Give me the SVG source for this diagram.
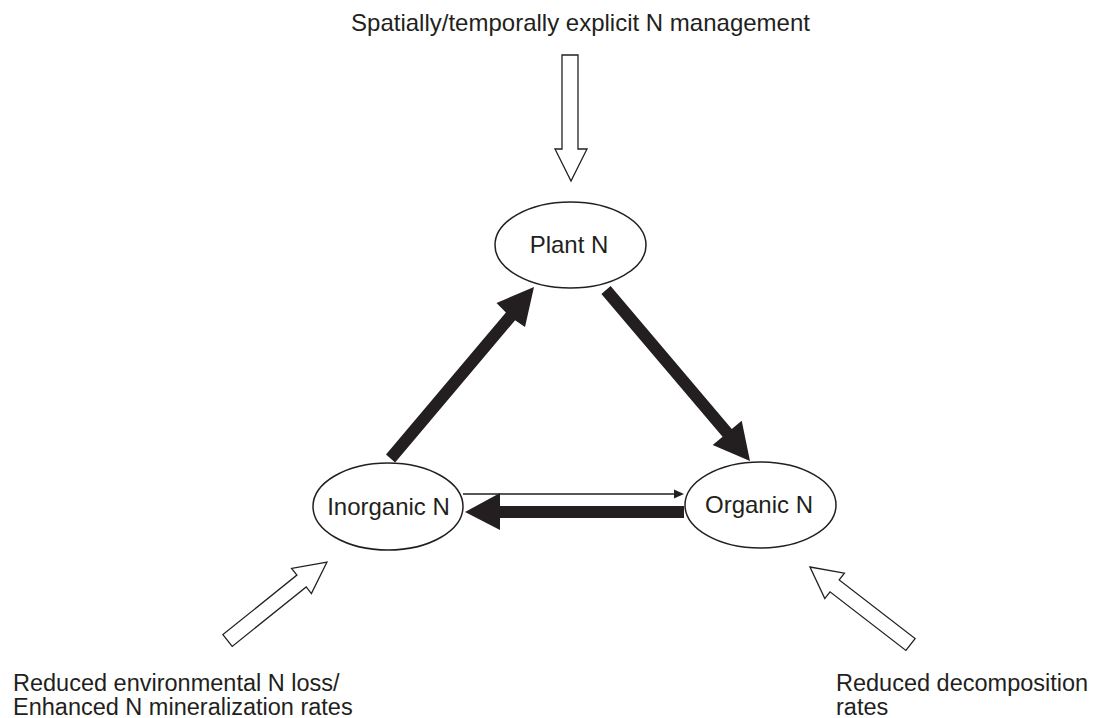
<svg xmlns="http://www.w3.org/2000/svg" width="1094" height="718" viewBox="0 0 1094 718">
  <style>
    .txt { font-family: "Liberation Sans", Arial, sans-serif; font-size: 24px; fill: #231f20; }
    .lbl { font-family: "Liberation Sans", Arial, sans-serif; font-size: 23.5px; fill: #231f20; }
    .node { fill: #ffffff; stroke: #231f20; stroke-width: 1.5; }
    .open { fill: #ffffff; stroke: #231f20; stroke-width: 1.3; stroke-linejoin: miter; }
    .solid { fill: #231f20; stroke: none; }
  </style>
  <rect width="1094" height="718" fill="#ffffff"/>

  <g id="connectors">
    <!-- Inorganic N -> Plant N (thick) -->
    <polygon class="solid" points="386.0,454.6 395.1,462.4 515.1,320.3 525.0,327.0 534,287 496.5,303.0 505.9,312.6"/>
    <!-- Plant N -> Organic N (thick) -->
    <polygon class="solid" points="601.4,293.9 610.6,286.1 731.8,429.0 741.7,420.7 750,461 712.7,445.0 722.6,436.8"/>
    <!-- Inorganic N -> Organic N (thin) -->
    <line x1="463" y1="494" x2="676" y2="494" stroke="#231f20" stroke-width="1.5"/>
    <polygon class="solid" points="684,494 674,489.5 674,498.5"/>
    <!-- Organic N -> Inorganic N (thick) -->
    <polygon class="solid" points="684,506 500,506 500,493 465,512 500,530 500,518 684,518"/>
  </g>

  <g id="input-arrows">
    <polygon id="arrow-top" class="open" points="562,55 578,55 578,149 587,149 571,181 555,149 562,149"/>
    <polygon id="arrow-left" class="open" points="327,562 311.4,593.6 306.2,586.9 232.2,646.4 222.9,634.6 296.9,575.1 291.6,568.4"/>
    <polygon id="arrow-right" class="open" points="810,567 844.4,573.2 839.2,579.9 915.1,638.6 905.9,650.4 830.0,591.8 824.8,598.6"/>
  </g>

  <g id="plant-n">
    <ellipse class="node" cx="570.5" cy="245" rx="75.5" ry="43"/>
    <text class="txt" x="569" y="253" text-anchor="middle">Plant N</text>
  </g>

  <g id="inorganic-n">
    <ellipse class="node" cx="388" cy="506.5" rx="75" ry="43.5"/>
    <text class="txt" x="388.5" y="515" text-anchor="middle">Inorganic N</text>
  </g>

  <g id="organic-n">
    <ellipse class="node" cx="760.5" cy="505" rx="75.5" ry="43"/>
    <text class="txt" x="759" y="513" text-anchor="middle">Organic N</text>
  </g>

  <g id="label-top">
    <text class="txt" x="580.5" y="31" text-anchor="middle">Spatially/temporally explicit N management</text>
  </g>

  <g id="label-bottom-left">
    <text class="lbl" x="13" y="691">Reduced environmental N loss/<tspan x="13" dy="24">Enhanced N mineralization rates</tspan></text>
  </g>

  <g id="label-bottom-right">
    <text class="lbl" x="836" y="691">Reduced decomposition<tspan x="836" dy="24">rates</tspan></text>
  </g>
</svg>
